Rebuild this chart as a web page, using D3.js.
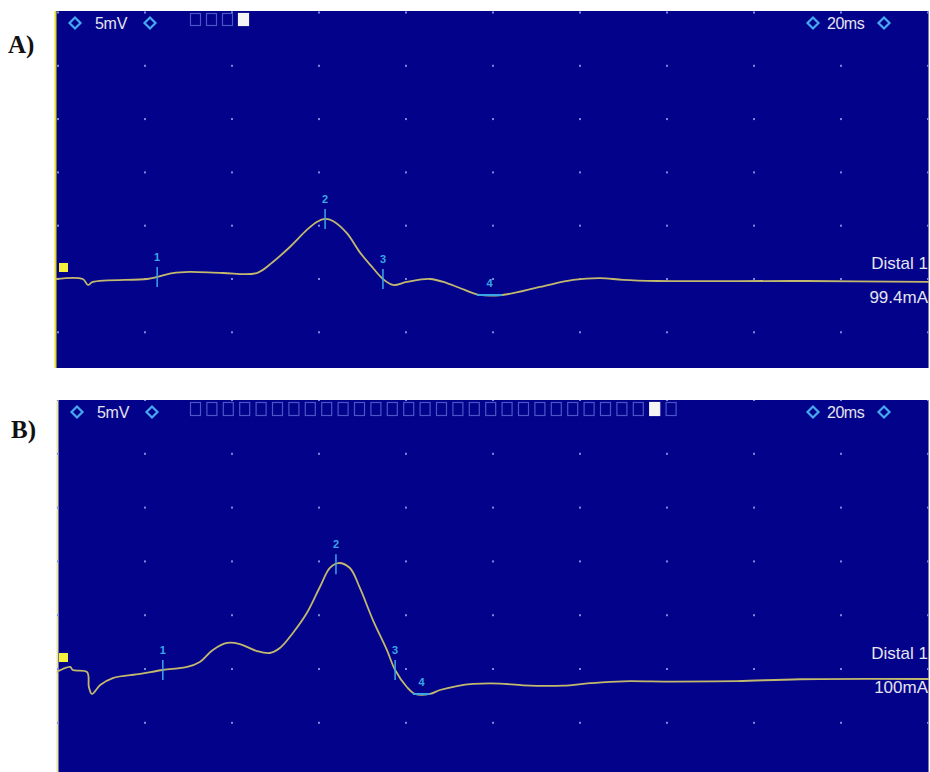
<!DOCTYPE html>
<html>
<head>
<meta charset="utf-8">
<script src="https://cdn.jsdelivr.net/npm/d3@7"></script>
<style>
  html, body { margin: 0; padding: 0; background: #ffffff; }
  svg { display: block; }
</style>
</head>
<body>
<svg id="chart" width="930" height="772"></svg>
<script>
// Motor nerve conduction traces, distal stimulation site (two recordings)

// Recording A: time (ms) and amplitude (mV)
const timeA = [-0.5, 5.7, 6.9, 8.0, 20.5, 22.8, 26.4, 30.3, 37.9, 45.7, 49.4, 53.3, 57.2, 59.5, 61.4, 63.2, 66.4, 69.4, 72.4, 74.7, 77.0, 80.2, 85.5, 89.4, 93.5, 97.0, 102.1, 110.8, 118.4, 124.6, 129.9, 137.7, 172.2, 200.5];
const ampA  = [0.0, 0.0, -0.56, -0.28, 0.0, 0.19, 0.56, 0.66, 0.56, 0.56, 1.6, 3.0, 4.6, 5.35, 5.63, 5.44, 4.3, 2.5, 1.03, 0.0, -0.56, -0.28, 0.0, -0.38, -1.03, -1.5, -1.5, -0.75, -0.09, 0.09, -0.09, -0.19, -0.19, -0.28];

// Recording B: time (ms) and amplitude (mV)
const timeB = [-0.3, 1.1, 2.8, 3.4, 6.7, 7.1, 7.8, 9.7, 12.6, 18.9, 24.1, 29.7, 32.6, 35.6, 38.9, 41.8, 45.7, 48.7, 51.0, 54.0, 57.2, 60.2, 62.5, 64.4, 67.1, 69.4, 72.4, 75.6, 77.5, 80.2, 82.1, 85.5, 87.8, 91.7, 95.4, 101.6, 107.0, 116.1, 122.3, 129.9, 141.4, 156.1, 170.6, 200.5];
const ampB  = [-0.28, 0.0, 0.19, -0.09, -0.28, -1.67, -2.32, -1.49, -0.84, -0.46, -0.09, 0.19, 0.65, 1.77, 2.42, 2.32, 1.67, 1.49, 1.95, 3.35, 5.2, 7.62, 9.39, 9.85, 9.39, 7.53, 4.55, 1.77, -0.09, -1.67, -2.32, -2.32, -1.95, -1.58, -1.39, -1.35, -1.52, -1.55, -1.32, -1.14, -1.18, -1.12, -0.95, -0.93];

// Cursor markers 1–3 (latency points, ms) and marker 4 (trough span, ms)
const cursorsA = [22.8, 61.4, 74.7];
const troughA  = [96.3, 102.1];
const cursorsB = [24.1, 63.9, 77.5];
const troughB  = [81.6, 85.5];

// Panel labels and readouts
const panelNames   = ["A)", "B)"];
const siteLabels   = ["Distal 1", "Distal 1"];
const stimLabels   = ["99.4mA", "100mA"];
const gainLabel    = "5mV";
const sweepLabel   = "20ms";
const sweepCounts  = [4, 30];
const activeSweep  = [3, 28];

// Grid ticks: 20 ms per division, 5 mV per division
const timeTicks = d3.range(0, 201, 20);
const ampTicks  = d3.range(-10, 26, 5);

const svg = d3.select("#chart");

const BG = "#03028a";
const TRACE = "#c2b86e";
const CURSOR = "#3ba6e6";
const TEXT = "#e4e4ee";
const SANS = "Liberation Sans, Arial, sans-serif";

const panels = [
  { name: panelNames[0], t: timeA, v: ampA, cursors: cursorsA, trough: troughA,
    site: siteLabels[0], stim: stimLabels[0], nSweeps: sweepCounts[0], active: activeSweep[0],
    left: 55, top: 11, bottom: 368, yDomain: [-8.35, 25.14], edge: "#e6de1e",
    nameX: 8, nameY: 53, boxTop: 13, boxH: 12, boxPitch: 16 },
  { name: panelNames[1], t: timeB, v: ampB, cursors: cursorsB, trough: troughB,
    site: siteLabels[1], stim: stimLabels[1], nSweeps: sweepCounts[1], active: activeSweep[1],
    left: 57, top: 400, bottom: 772, yDomain: [-9.57, 25.0], edge: "#ece4a4",
    nameX: 11, nameY: 438, boxTop: 402, boxH: 13, boxPitch: 16.4 }
];

const right = 929;

panels.forEach((p, i) => {
  const x = d3.scaleLinear().domain([0, 200]).range([58, 928]);
  const y = d3.scaleLinear().domain(p.yDomain).range([p.bottom, p.top]);

  const g = svg.append("g");
  const clipId = "clip" + i;
  svg.append("clipPath").attr("id", clipId)
    .append("rect").attr("x", p.left).attr("y", p.top)
    .attr("width", right - p.left).attr("height", p.bottom - p.top);

  // screen background
  g.append("rect").attr("x", p.left).attr("y", p.top)
    .attr("width", right - p.left).attr("height", p.bottom - p.top)
    .attr("fill", BG);

  // left yellow edge and right frame line
  g.append("line").attr("x1", p.left + 0.5).attr("x2", p.left + 0.5)
    .attr("y1", p.top).attr("y2", p.bottom)
    .attr("stroke", p.edge).attr("stroke-width", 2);
  g.append("line").attr("x1", right - 0.5).attr("x2", right - 0.5)
    .attr("y1", p.top).attr("y2", p.bottom)
    .attr("stroke", "#7a7aa6").attr("stroke-width", 1);

  const inner = g.append("g").attr("clip-path", `url(#${clipId})`);

  // dotted division grid
  const dots = [];
  timeTicks.forEach(tt => ampTicks.forEach(a => dots.push([tt, a])));
  inner.selectAll("rect.dot").data(dots).enter().append("rect")
    .attr("class", "dot")
    .attr("x", d => x(d[0]) - 1).attr("y", d => y(d[1]) - 1)
    .attr("width", 2).attr("height", 2)
    .attr("fill", "#7c88dc");

  // baseline reference square
  inner.append("rect")
    .attr("x", x(0) + 1).attr("y", y(0) - 16)
    .attr("width", 9).attr("height", 9)
    .attr("fill", "#f4f03c");

  // waveform
  const pts = p.t.map((tt, k) => [tt, p.v[k]]);
  const line = d3.line().x(d => x(d[0])).y(d => y(d[1])).curve(d3.curveCatmullRom.alpha(0.5));
  inner.append("path").datum(pts)
    .attr("d", line)
    .attr("fill", "none")
    .attr("stroke", TRACE)
    .attr("stroke-width", 1.8)
    .attr("stroke-linejoin", "round");

  // interpolate amplitude at a given time
  const ampAt = tt => {
    const k = d3.bisectLeft(p.t, tt);
    if (k <= 0) return p.v[0];
    if (k >= p.t.length) return p.v[p.t.length - 1];
    const f = (tt - p.t[k - 1]) / (p.t[k] - p.t[k - 1]);
    return p.v[k - 1] + f * (p.v[k] - p.v[k - 1]);
  };

  // cursor ticks 1–3
  p.cursors.forEach((c, k) => {
    const cy = y(ampAt(c));
    inner.append("line")
      .attr("x1", x(c)).attr("x2", x(c))
      .attr("y1", cy - 10).attr("y2", cy + 10)
      .attr("stroke", CURSOR).attr("stroke-width", 1.5);
    inner.append("text")
      .attr("x", x(c)).attr("y", cy - 16)
      .attr("text-anchor", "middle")
      .attr("font-family", SANS)
      .attr("font-size", 11).attr("font-weight", "bold")
      .attr("fill", CURSOR)
      .text(k + 1);
  });

  // cursor 4: trough span
  const ty = y(ampAt((p.trough[0] + p.trough[1]) / 2));
  inner.append("line")
    .attr("x1", x(p.trough[0])).attr("x2", x(p.trough[1]))
    .attr("y1", ty).attr("y2", ty)
    .attr("stroke", CURSOR).attr("stroke-width", 2);
  inner.append("text")
    .attr("x", x((p.trough[0] + p.trough[1]) / 2)).attr("y", ty - 8)
    .attr("text-anchor", "middle")
    .attr("font-family", SANS)
    .attr("font-size", 11).attr("font-weight", "bold")
    .attr("fill", CURSOR)
    .text(4);

  // header: gain and sweep controls
  const hy = p.top + 12;
  const diamond = (cx, cy) => {
    g.append("path")
      .attr("d", `M${cx},${cy - 5.5}L${cx + 5.5},${cy}L${cx},${cy + 5.5}L${cx - 5.5},${cy}Z`)
      .attr("fill", "none").attr("stroke", "#47a8f0").attr("stroke-width", 2.2);
  };
  diamond(p.left + 20, hy);
  diamond(p.left + 95, hy);
  g.append("text")
    .attr("x", p.left + 40).attr("y", hy + 6)
    .attr("font-family", SANS)
    .attr("font-size", 16).attr("letter-spacing", -0.3)
    .attr("fill", TEXT).text(gainLabel);

  diamond(813, hy);
  diamond(884, hy);
  g.append("text")
    .attr("x", 827).attr("y", hy + 6)
    .attr("font-family", SANS)
    .attr("font-size", 16).attr("letter-spacing", -0.5)
    .attr("fill", TEXT).text(sweepLabel);

  // stored sweep indicators
  const sweeps = d3.range(p.nSweeps);
  g.selectAll(null).data(sweeps).enter().append("rect")
    .attr("x", d => 190.5 + d * p.boxPitch)
    .attr("y", p.boxTop + 0.5)
    .attr("width", 10).attr("height", p.boxH)
    .attr("fill", d => d === p.active ? "#f4f4f4" : "none")
    .attr("stroke", d => d === p.active ? "#f4f4f4" : "#4a56c8")
    .attr("stroke-width", 1.2);

  // site and stimulus readout
  g.append("text")
    .attr("x", 928).attr("y", y(0) - 10)
    .attr("text-anchor", "end")
    .attr("font-family", SANS)
    .attr("font-size", 17)
    .attr("fill", TEXT).text(p.site);
  g.append("text")
    .attr("x", 928).attr("y", y(0) + 24)
    .attr("text-anchor", "end")
    .attr("font-family", SANS)
    .attr("font-size", 17)
    .attr("fill", TEXT).text(p.stim);

  // panel letter
  svg.append("text")
    .attr("x", p.nameX).attr("y", p.nameY)
    .attr("font-family", "Liberation Serif, Times New Roman, serif")
    .attr("font-size", 25).attr("font-weight", "bold")
    .attr("fill", "#111").text(p.name);
});
</script>
</body>
</html>
